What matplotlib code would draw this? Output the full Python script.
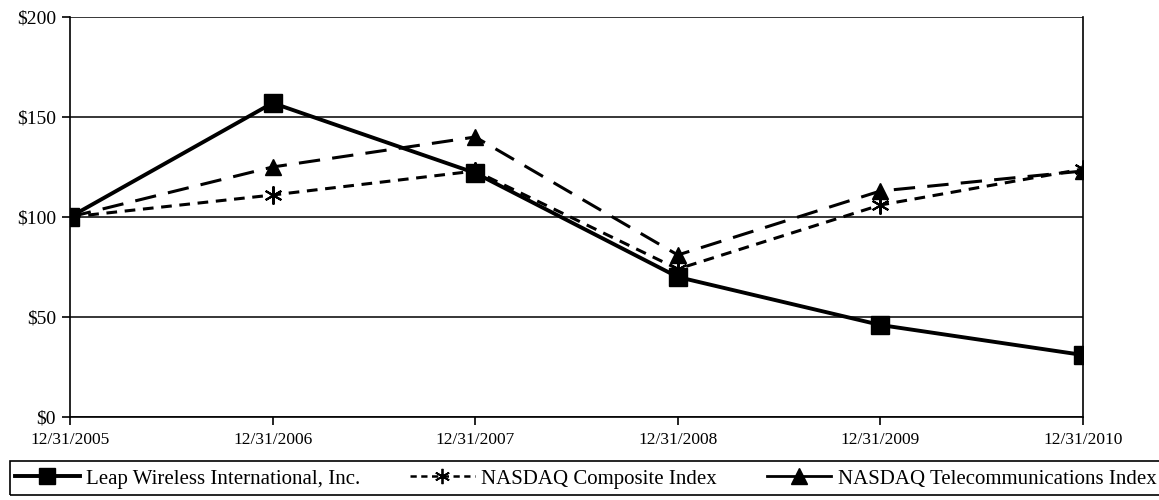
import numpy as np
import matplotlib
matplotlib.use("Agg")
import matplotlib.pyplot as plt
from matplotlib.lines import Line2D
from matplotlib.patches import Rectangle

plt.rcParams['font.family'] = ['Liberation Serif', 'DejaVu Serif']

dates = ["12/31/2005", "12/31/2006", "12/31/2007", "12/31/2008", "12/31/2009", "12/31/2010"]
leap = [100, 157, 122, 70, 46, 31]
nasdaq_comp = [100, 111, 123, 74, 106, 124]
nasdaq_tele = [100, 125, 140, 81, 113, 123]
yticks = [0, 50, 100, 150, 200]
ylabels = ["$0", "$50", "$100", "$150", "$200"]
labels = ["Leap Wireless International, Inc.", "NASDAQ Composite Index", "NASDAQ Telecommunications Index"]

fig = plt.figure(figsize=(11.59, 5.0), dpi=100)
ax = fig.add_axes([70/1159, 1 - 417/500, (1083 - 70)/1159, 400/500])

x = np.arange(len(dates))
ax.plot(x, nasdaq_tele, color='black', lw=2.2, dashes=(7, 4), marker='^', ms=12, zorder=3)
ax.plot(x, nasdaq_comp, color='black', lw=2.2, dashes=(3.5, 2.5), marker=(6, 2, 0), ms=13, mew=1.5, zorder=3)
ax.plot(x, leap, color='black', lw=2.8, marker='s', ms=13, zorder=4)

ax.set_xlim(0, 5)
ax.set_ylim(0, 200)
ax.set_yticks(yticks)
ax.set_yticklabels(ylabels)
ax.set_xticks(x)
ax.set_xticklabels(dates)
ax.yaxis.grid(True, color='black', lw=1.1)
ax.set_axisbelow(True)
ax.tick_params(axis='both', direction='out', length=6, width=1.2, colors='black')
ax.tick_params(axis='x', pad=5, labelsize=12.5)
ax.tick_params(axis='y', pad=4, labelsize=14)
for s in ['top', 'right', 'left', 'bottom']:
    ax.spines[s].set_color('black')
    ax.spines[s].set_linewidth(1.2)
ax.spines['top'].set_visible(False)

handles = [
    Line2D([], [], color='black', lw=2.8, marker='s', ms=11),
    Line2D([], [], color='black', lw=1.8, dashes=(2.5, 1.8), marker=(6, 2, 0), ms=11, mew=1.3),
    Line2D([], [], color='black', lw=2, marker='^', ms=11),
]
fig.legend(handles, labels, loc='center left', ncol=3,
           bbox_to_anchor=(15/1159, 1 - 479/500),
           fontsize=15, frameon=False,
           handlelength=3.1, handletextpad=0.3, columnspacing=2.4,
           borderaxespad=0, borderpad=0)
fig.patches.append(Rectangle((10/1159, 1 - 495/500), 1.0, 34/500, transform=fig.transFigure,
                             fill=False, edgecolor='black', lw=1.2))

fig.savefig("out.png", dpi=100)
